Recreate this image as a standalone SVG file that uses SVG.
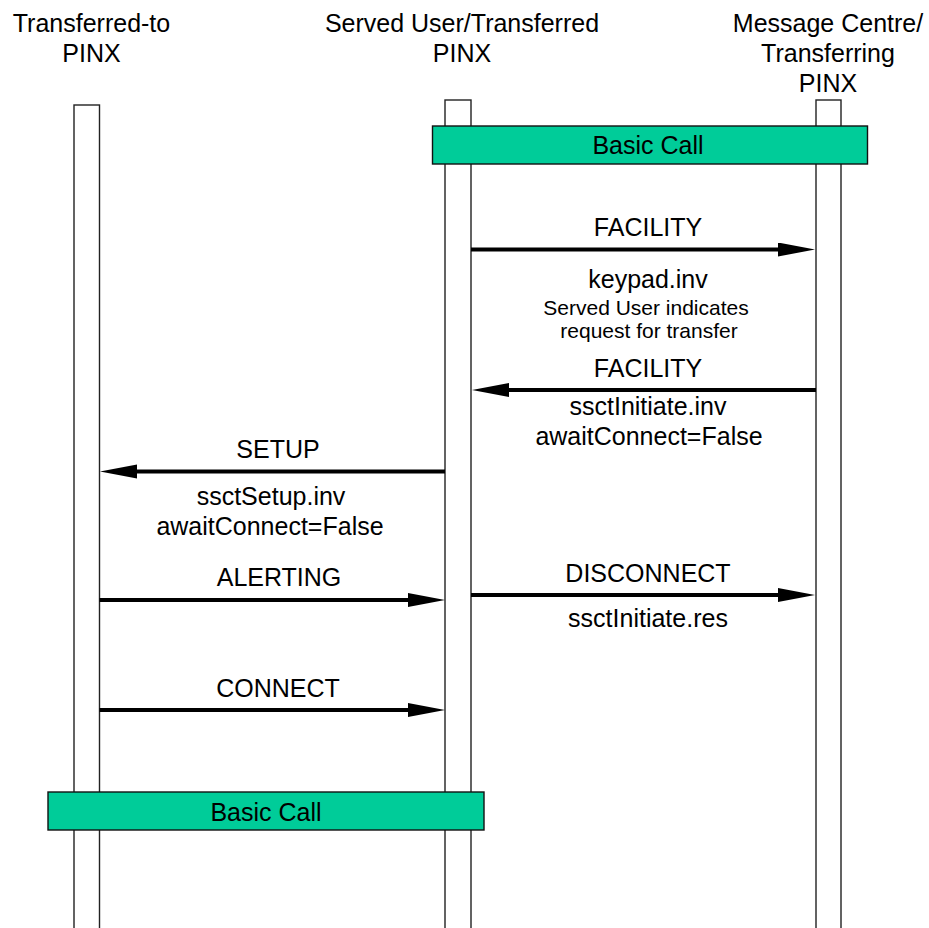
<svg xmlns="http://www.w3.org/2000/svg" width="929" height="928" viewBox="0 0 929 928">
  <style>
    text { font-family: "Liberation Sans", Arial, sans-serif; fill: #000; text-anchor: middle; }
    .t { font-size: 25px; }
    .s { font-size: 21px; }
    .bar { fill: #fff; stroke: #222; stroke-width: 1.4; }
    .box { fill: #00cc99; stroke: #111; stroke-width: 1.4; }
    .msg { stroke: #000; stroke-width: 4; fill: none; marker-end: url(#ah); }
  </style>
  <defs>
    <marker id="ah" markerUnits="userSpaceOnUse" markerWidth="40" markerHeight="16" refX="7" refY="7" orient="auto">
      <path d="M0,0 L37,7 L0,14 Z" fill="#000"/>
    </marker>
  </defs>
  <rect width="929" height="928" fill="#fff"/>

  <g id="pinx-transferred-to">
    <rect class="bar" x="74" y="105" width="25.5" height="840"/>
    <text class="t" x="91.5" y="32">Transferred-to</text>
    <text class="t" x="91.5" y="62">PINX</text>
  </g>
  <g id="pinx-served-user">
    <rect class="bar" x="445" y="100" width="26" height="840"/>
    <text class="t" x="462" y="32">Served User/Transferred</text>
    <text class="t" x="462" y="62">PINX</text>
  </g>
  <g id="pinx-message-centre">
    <rect class="bar" x="816" y="100" width="25" height="840"/>
    <text class="t" x="828" y="32">Message Centre/</text>
    <text class="t" x="828" y="62">Transferring</text>
    <text class="t" x="828" y="92">PINX</text>
  </g>

  <g id="basic-call-top">
    <rect class="box" x="432.5" y="126" width="435" height="38"/>
    <text class="t" x="648" y="154">Basic Call</text>
  </g>
  <g id="basic-call-bottom">
    <rect class="box" x="48" y="792" width="436" height="38"/>
    <text class="t" x="266" y="820.5">Basic Call</text>
  </g>

  <g id="connectors">
    <line class="msg" x1="471" y1="249.5" x2="785" y2="249.5"/>
    <line class="msg" x1="816" y1="390" x2="502" y2="390"/>
    <line class="msg" x1="445" y1="471.5" x2="130" y2="471.5"/>
    <line class="msg" x1="99.5" y1="600" x2="415" y2="600"/>
    <line class="msg" x1="471" y1="595" x2="785" y2="595"/>
    <line class="msg" x1="99.5" y1="710" x2="415" y2="710"/>
  </g>

  <g id="labels">
    <text class="t" x="648" y="236">FACILITY</text>
    <text class="t" x="648" y="288">keypad.inv</text>
    <text class="s" x="646" y="315">Served User indicates</text>
    <text class="s" x="649" y="338">request for transfer</text>
    <text class="t" x="648" y="377">FACILITY</text>
    <text class="t" x="648" y="415">ssctInitiate.inv</text>
    <text class="t" x="649" y="445">awaitConnect=False</text>
    <text class="t" x="278" y="458">SETUP</text>
    <text class="t" x="271" y="505">ssctSetup.inv</text>
    <text class="t" x="270" y="535">awaitConnect=False</text>
    <text class="t" x="279" y="586">ALERTING</text>
    <text class="t" x="278" y="697">CONNECT</text>
    <text class="t" x="648" y="582">DISCONNECT</text>
    <text class="t" x="648" y="627">ssctInitiate.res</text>
  </g>
</svg>
